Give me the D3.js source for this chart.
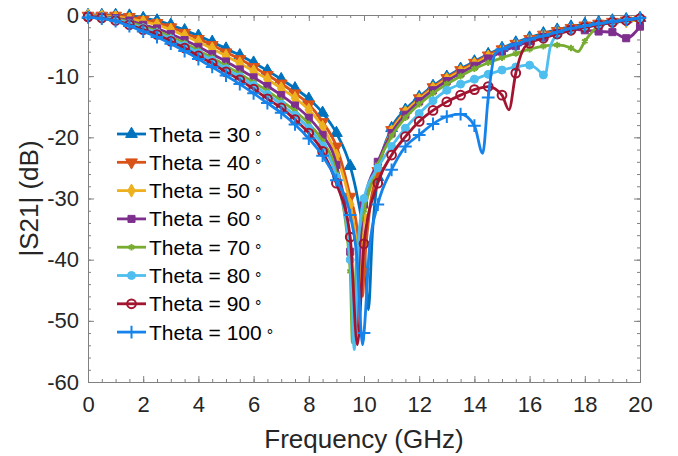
<html>
<head>
<meta charset="utf-8">
<script src="https://d3js.org/d3.v7.min.js"></script>
<style>
  body { margin: 0; background: #fff; }
  text { font-family: Arial, "Liberation Sans", sans-serif; }
</style>
</head>
<body>
<div id="vis"></div>
<script>
// frequency grid (GHz), one marker per point
var freqs = [0, 0.5, 1, 1.5, 2, 2.5, 3, 3.5, 4, 4.5, 5, 5.5, 6, 6.5, 7, 7.5, 8, 8.5, 9, 9.5,
  10, 10.5, 11, 11.5, 12, 12.5, 13, 13.5, 14, 14.5, 15, 15.5, 16, 16.5, 17, 17.5, 18, 18.5, 19, 19.5, 20]

var thetas = [30, 40, 50, 60, 70, 80, 90, 100]
var colors = ["#0072BD", "#D95319", "#EDB120", "#7E2F8E", "#77AC30", "#4DBEEE", "#A2142F", "#1683EA"]

// |S21| in dB at each freq
var s21_30 = [0, 0, 0, -0.1, -0.5, -0.9, -1.6, -2.5, -3.4, -4.4, -5.5, -6.6, -7.8, -9.1, -10.5, -12.0, -13.7, -16.0, -19.3, -24.7,
  -37.0, -26.5, -18.5, -15.5, -13.4, -11.6, -10.1, -8.8, -7.6, -6.4, -5.4, -4.5, -3.7, -3.0, -2.4, -1.9, -1.5, -1.2, -0.9, -0.7, -0.5]
var s21_40 = [-0.1, -0.1, -0.1, -0.3, -0.8, -1.3, -2.0, -2.9, -3.9, -4.9, -6.1, -7.2, -8.5, -9.8, -11.2, -12.8, -14.6, -17.5, -21.5, -29.7,
  -42.0, -25.5, -18.8, -15.8, -13.6, -11.8, -10.3, -9.0, -7.8, -6.6, -5.6, -4.7, -3.9, -3.2, -2.6, -2.1, -1.7, -1.4, -1.1, -0.9, -0.8]
var s21_50 = [-0.1, -0.2, -0.3, -0.6, -1.1, -1.6, -2.4, -3.4, -4.4, -5.5, -6.7, -7.9, -9.2, -10.5, -12.0, -13.6, -15.5, -18.3, -23.0, -31.0,
  -33.0, -24.5, -19.0, -15.9, -13.8, -12.0, -10.5, -9.2, -8.0, -6.8, -5.8, -4.9, -4.1, -3.4, -2.8, -2.3, -1.9, -1.5, -1.2, -1.0, -0.8]
var s21_60 = [-0.2, -0.3, -0.5, -0.9, -1.6, -2.2, -3.1, -4.1, -5.2, -6.4, -7.6, -8.9, -10.2, -11.6, -13.1, -14.8, -16.8, -19.6, -24.5, -38.7,
  -31.0, -24.0, -19.3, -16.3, -14.1, -12.3, -10.8, -9.5, -8.3, -7.1, -6.0, -5.1, -4.3, -3.6, -3.0, -2.3, -2.5, -2.7, -2.8, -3.8, -1.9]
var s21_70 = [-0.3, -0.4, -0.6, -1.2, -1.9, -2.6, -3.6, -4.6, -5.8, -7.0, -8.3, -9.6, -11.0, -12.4, -14.0, -15.7, -17.8, -20.6, -26.0, -41.9,
  -31.9, -24.5, -19.8, -16.8, -14.6, -12.8, -11.3, -10.0, -8.8, -7.8, -7.0, -6.3, -5.6, -5.1, -4.9, -5.4, -4.3, -1.8, -1.2, -0.9, -0.6]
var s21_80 = [-0.3, -0.4, -0.7, -1.4, -2.1, -2.9, -3.9, -5.0, -6.2, -7.4, -8.8, -10.1, -11.5, -13.0, -14.6, -16.4, -18.5, -21.4, -26.5, -40.0,
  -30.0, -25.0, -21.5, -18.5, -16.1, -14.0, -12.3, -11.3, -10.5, -9.7, -9.0, -8.5, -8.2, -9.8, -3.3, -2.5, -2.0, -1.6, -1.2, -0.9, -0.6]
var s21_90 = [-0.3, -0.5, -0.9, -1.6, -2.4, -3.2, -4.3, -5.4, -6.7, -7.9, -9.3, -10.6, -12.1, -13.7, -15.2, -17.1, -19.3, -22.3, -27.5, -36.3,
  -37.4, -27.5, -22.9, -19.9, -17.4, -15.6, -14.2, -13.1, -12.2, -11.7, -13.1, -9.5, -4.6, -3.8, -3.1, -2.5, -2.0, -1.6, -1.2, -0.9, -0.6]
var s21_100 = [-0.4, -0.6, -1.0, -1.8, -2.7, -3.6, -4.7, -5.9, -7.2, -8.5, -9.9, -11.3, -12.8, -14.4, -16.0, -17.9, -20.2, -23.0, -27.0, -32.7,
  -52.0, -31.0, -25.3, -21.5, -19.6, -17.8, -16.6, -16.2, -18.1, -13.5, -5.6, -4.8, -4.0, -3.4, -2.8, -2.2, -1.8, -1.4, -1.1, -0.8, -0.5]
var s21 = [s21_30, s21_40, s21_50, s21_60, s21_70, s21_80, s21_90, s21_100]

// extra points between markers (resonance dips), [freq, dB]
var dips = [
  [[9.75, -29.5], [10.16, -48.2], [10.3, -36]],
  [[9.75, -35], [9.95, -46], [10.2, -32]],
  [[9.7, -36.5], [9.85, -44], [10.25, -28]],
  [[9.7, -52], [9.85, -38]],
  [[9.58, -53.6], [9.75, -38], [17.75, -6.0]],
  [[9.65, -54.7], [9.8, -37], [16.55, -10.0], [16.75, -5.2]],
  [[9.76, -53.9], [15.25, -15.5], [15.75, -5.8]],
  [[9.75, -40], [9.95, -53.9], [10.2, -38], [14.3, -22.6], [14.75, -6.3]]
]

var xTicks = [0, 2, 4, 6, 8, 10, 12, 14, 16, 18, 20]
var yTicks = [0, -10, -20, -30, -40, -50, -60]

var W = 678, H = 456
var margin = {top: 15, right: 38, bottom: 74, left: 88}
var width = W - margin.left - margin.right
var height = H - margin.top - margin.bottom

var svg = d3.select("#vis").append("svg")
  .attr("width", W).attr("height", H)
var g = svg.append("g")
  .attr("transform", "translate(" + margin.left + "," + margin.top + ")")

var x = d3.scaleLinear().domain([0, 20]).range([0, width])
var y = d3.scaleLinear().domain([-60, 0]).range([height, 0])

var axisColor = "#808080"
var labelColor = "#262626"

// ticks inside on all four sides
function drawAxis(axis, tr) {
  var a = g.append("g").attr("transform", tr).call(axis)
  a.select(".domain").attr("stroke", axisColor).attr("stroke-width", 1)
  a.selectAll(".tick line").attr("stroke", axisColor)
  a.selectAll(".tick text").attr("fill", labelColor).style("font-size", "22px")
    .style("font-family", "Arial, 'Liberation Sans', sans-serif")
  return a
}
var plain = function(d) { return String(d) }
var minorX = d3.range(0, 20.01, 0.5), minorY = d3.range(-60, 0.01, 2)
drawAxis(d3.axisBottom(x).tickValues(minorX).tickSize(-3).tickFormat(""), "translate(0," + height + ")")
drawAxis(d3.axisTop(x).tickValues(minorX).tickSize(-3).tickFormat(""), "translate(0,0)")
drawAxis(d3.axisLeft(y).tickValues(minorY).tickSize(-3).tickFormat(""), "translate(0,0)")
drawAxis(d3.axisRight(y).tickValues(minorY).tickSize(-3).tickFormat(""), "translate(" + width + ",0)")
drawAxis(d3.axisBottom(x).tickValues(xTicks).tickSize(-6).tickPadding(14).tickFormat(plain), "translate(0," + height + ")")
drawAxis(d3.axisTop(x).tickValues(xTicks).tickSize(-6).tickFormat(""), "translate(0,0)")
drawAxis(d3.axisLeft(y).tickValues(yTicks).tickSize(-6).tickPadding(9).tickFormat(plain), "translate(0,0)")
drawAxis(d3.axisRight(y).tickValues(yTicks).tickSize(-6).tickFormat(""), "translate(" + width + ",0)")

// axis titles
svg.append("text")
  .attr("x", margin.left + width / 2).attr("y", 448)
  .attr("text-anchor", "middle").attr("fill", labelColor)
  .style("font-size", "26px")
  .text("Frequency (GHz)")
svg.append("text")
  .attr("transform", "translate(38," + (margin.top + height / 2) + ") rotate(-90)")
  .attr("text-anchor", "middle").attr("fill", labelColor)
  .style("font-size", "26px")
  .text("|S21| (dB)")

// marker shapes
var shapes = [
  {type: d3.symbolTriangle, size: 60, fill: true, rot: 0},
  {type: d3.symbolTriangle, size: 60, fill: true, rot: 180},
  {type: d3.symbolDiamond, size: 50, fill: true, rot: 0},
  {type: d3.symbolSquare, size: 50, fill: true, rot: 0},
  {type: d3.symbolAsterisk, size: 30, fill: false, rot: 0},
  {type: d3.symbolCircle, size: 50, fill: true, rot: 0},
  {type: d3.symbolCircle, size: 60, fill: false, rot: 0},
  {type: d3.symbolPlus, size: 55, fill: false, rot: 0}
]

function drawMarker(sel, i) {
  var s = shapes[i]
  sel.attr("d", d3.symbol().type(s.type).size(s.size))
    .attr("fill", s.fill ? colors[i] : "none")
    .attr("stroke", colors[i])
    .attr("stroke-width", s.fill ? 1 : 2)
}

var line = d3.line()
  .x(function(d) { return x(d.f) })
  .y(function(d) { return y(d.v) })
  .curve(d3.curveMonotoneX)

thetas.forEach(function(t, i) {
  var pts = freqs.map(function(f, j) { return {f: f, v: s21[i][j], m: true} })
  dips[i].forEach(function(p) { pts.push({f: p[0], v: p[1], m: false}) })
  pts.sort(function(a, b) { return a.f - b.f })

  var sg = g.append("g")
  sg.append("path").datum(pts)
    .attr("fill", "none").attr("stroke", colors[i]).attr("stroke-width", 2.8)
    .attr("d", line)
  sg.selectAll("path.mk").data(pts.filter(function(d) { return d.m }))
    .enter().append("path").attr("class", "mk")
    .attr("transform", function(d) {
      return "translate(" + x(d.f) + "," + y(d.v) + ") rotate(" + shapes[i].rot + ")"
    })
    .call(drawMarker, i)
})

// legend
var leg = svg.append("g").attr("transform", "translate(117,134)")
thetas.forEach(function(t, i) {
  var row = leg.append("g").attr("transform", "translate(0," + (i * 28.3) + ")")
  row.append("line").attr("x1", 0).attr("x2", 29).attr("y1", 0).attr("y2", 0)
    .attr("stroke", colors[i]).attr("stroke-width", 2.8)
  row.append("path").attr("transform", "translate(14.5,0) rotate(" + shapes[i].rot + ")")
    .call(drawMarker, i)
  var txt = row.append("text").attr("x", 32).attr("y", 7.5)
    .attr("fill", "#000").style("font-size", "21px")
  txt.append("tspan").text("Theta = " + t)
  txt.append("tspan").attr("dx", 5).attr("dy", 1).style("font-size", "16px").text("\u00B0")
})
</script>
</body>
</html>
